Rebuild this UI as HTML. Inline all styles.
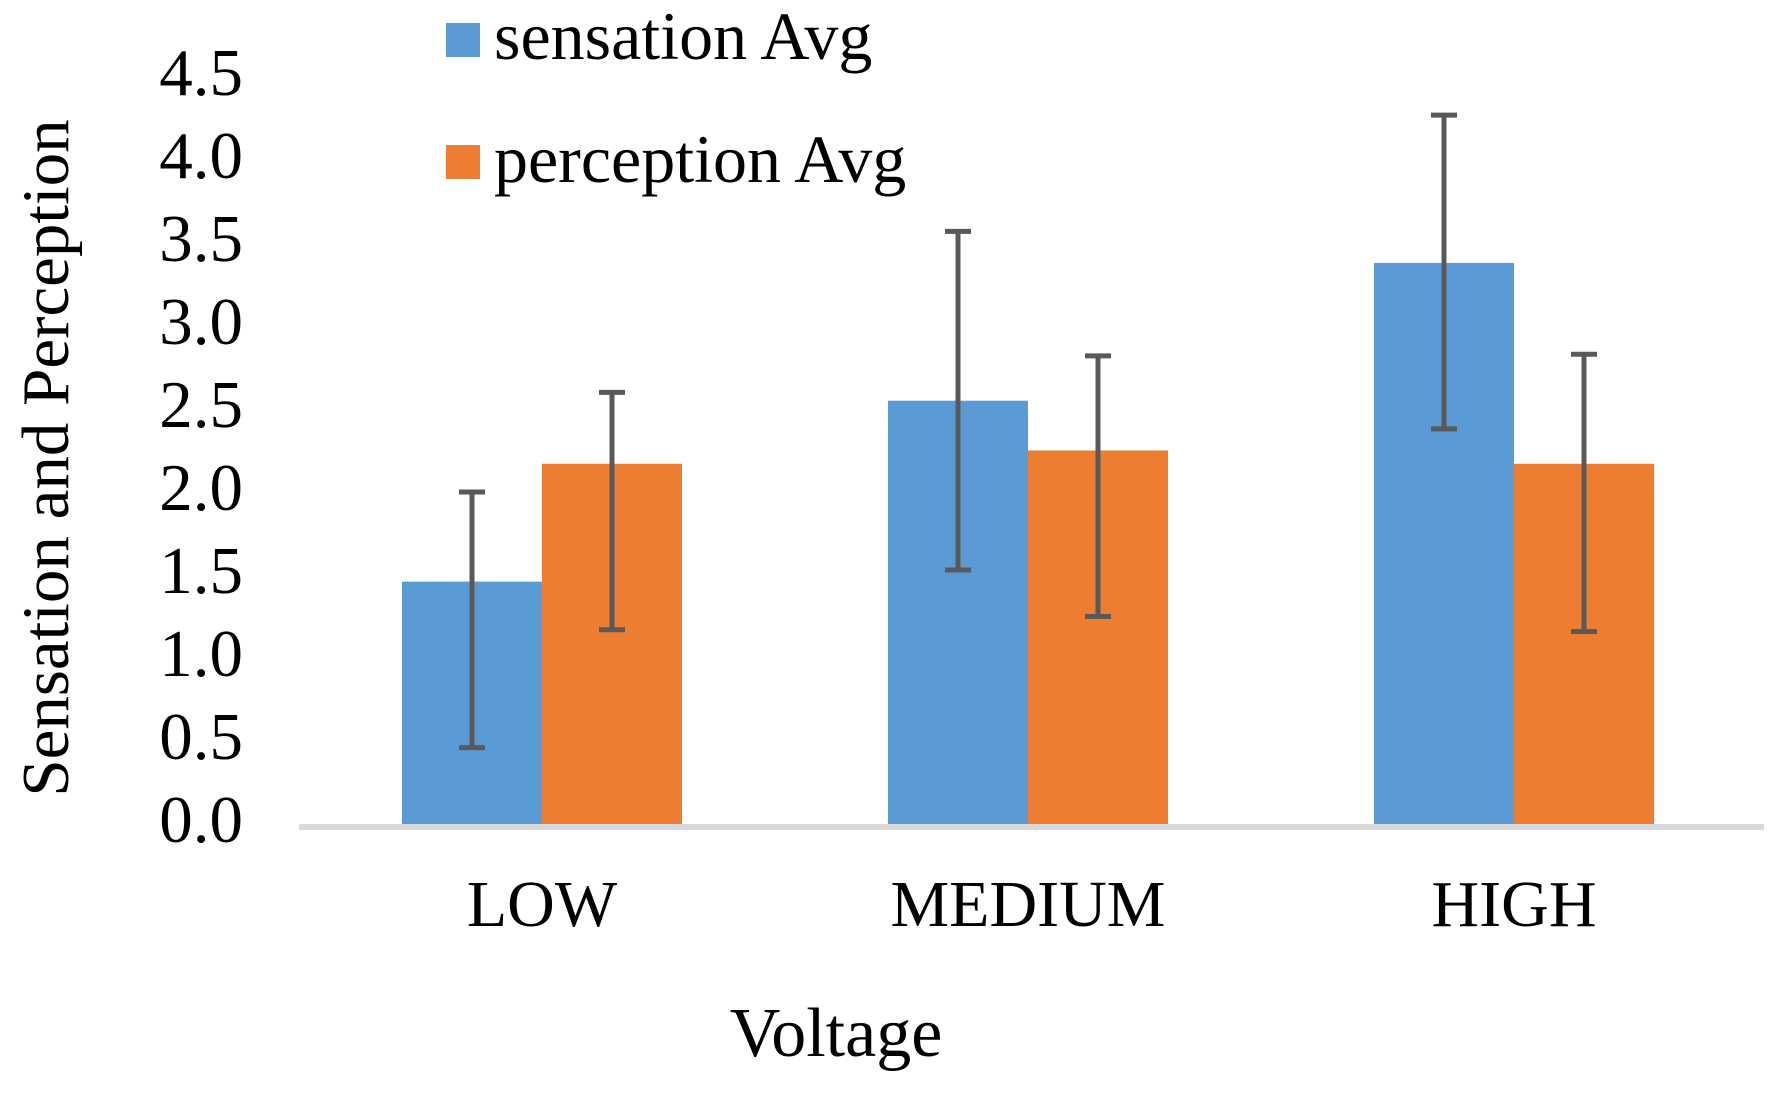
<!DOCTYPE html>
<html><head><meta charset="utf-8"><style>
html,body{margin:0;padding:0;background:#fff;}
svg{display:block;font-family:"Liberation Serif",serif;}
</style></head><body>
<svg id="chart" width="1775" height="1099" viewBox="0 0 1775 1099">
<g id="yticks"></g>
<g id="bars"></g>
<line x1="299" y1="827" x2="1764" y2="827" stroke="#d9d9d9" stroke-width="6"/>
<g id="errs"></g>
<g id="xlabels"></g>
<text x="836" y="1056" font-size="70" text-anchor="middle">Voltage</text>
<text transform="translate(68,458) rotate(-90)" font-size="67" text-anchor="middle">Sensation and Perception</text>
<g>
<rect x="446" y="23" width="34" height="34" fill="#5b9bd5"/>
<text x="494" y="59" font-size="68">sensation Avg</text>
<rect x="446" y="145" width="34" height="34" fill="#ed7d31"/>
<text x="494" y="182" font-size="68">perception Avg</text>
</g>
</svg>
<script>
const categories = ["LOW", "MEDIUM", "HIGH"];
const sensation = [1.46, 2.55, 3.38];
const perception = [2.17, 2.25, 2.17];
const sensationErrLow = [1.0, 1.02, 1.0];
const sensationErrHigh = [0.54, 1.02, 0.89];
const perceptionErrLow = [1.0, 1.0, 1.01];
const perceptionErrHigh = [0.43, 0.57, 0.66];
const yTicks = [0, 0.5, 1, 1.5, 2, 2.5, 3, 3.5, 4, 4.5];

const NS = "http://www.w3.org/2000/svg";
const x0 = 299, x1 = 1757, yBase = 824, pxPerUnit = 166.0;
const y = v => yBase - v * pxPerUnit;
const band = (x1 - x0) / categories.length;
const barW = 140;
function mk(tag, attrs, parent) {
  const e = document.createElementNS(NS, tag);
  for (const k in attrs) e.setAttribute(k, attrs[k]);
  parent.appendChild(e);
  return e;
}
const gT = document.getElementById('yticks');
yTicks.forEach(t => {
  const el = mk('text', {x: 243, y: y(t) + 18, 'font-size': 67, 'text-anchor': 'end'}, gT);
  el.textContent = t.toFixed(1);
  
  
});
const gB = document.getElementById('bars'), gE = document.getElementById('errs'), gX = document.getElementById('xlabels');
function errBar(cx, v, lo, hi) {
  const g = mk('g', {stroke: '#595959', 'stroke-width': 5, fill: 'none'}, gE);
  
  
  mk('line', {x1: cx, x2: cx, y1: y(v - lo), y2: y(v + hi)}, g);
  mk('line', {x1: cx - 13, x2: cx + 13, y1: y(v - lo), y2: y(v - lo)}, g);
  mk('line', {x1: cx - 13, x2: cx + 13, y1: y(v + hi), y2: y(v + hi)}, g);
}
categories.forEach((c, i) => {
  const cx = x0 + band * (i + 0.5);
  const b1 = mk('rect', {x: cx - barW, y: y(sensation[i]), width: barW, height: yBase - y(sensation[i]), fill: '#5b9bd5'}, gB);
  
  
  const b2 = mk('rect', {x: cx, y: y(perception[i]), width: barW, height: yBase - y(perception[i]), fill: '#ed7d31'}, gB);
  
  
  errBar(cx - barW / 2, sensation[i], sensationErrLow[i], sensationErrHigh[i]);
  errBar(cx + barW / 2, perception[i], perceptionErrLow[i], perceptionErrHigh[i]);
  const t = mk('text', {x: cx, y: 926, 'font-size': 66, 'text-anchor': 'middle'}, gX);
  t.textContent = c;
  
  
});
</script>
</body></html>
